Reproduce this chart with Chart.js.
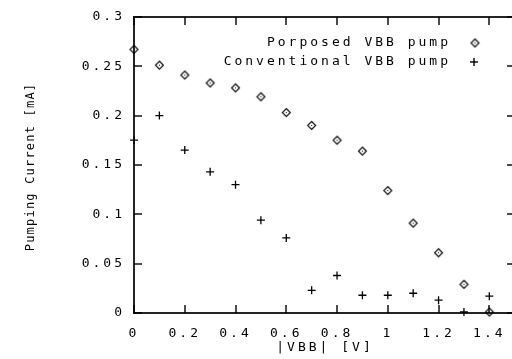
<!DOCTYPE html>
<html>
<head>
<meta charset="utf-8">
<script src="https://cdn.jsdelivr.net/npm/chart.js@4/dist/chart.umd.min.js"></script>
<style>
  html, body { margin: 0; padding: 0; background: #fff; overflow: hidden; }
  canvas { display: block; }
</style>
</head>
<body>
<canvas id="pumpChart" width="520" height="359"></canvas>
<script>
// |VBB| in volts
const vbb = [0, 0.1, 0.2, 0.3, 0.4, 0.5, 0.6, 0.7, 0.8, 0.9, 1.0, 1.1, 1.2, 1.3, 1.4];
// pumping current in mA
const proposedCurrent = [0.267, 0.251, 0.241, 0.233, 0.228, 0.219, 0.203, 0.190, 0.175, 0.164, 0.124, 0.091, 0.061, 0.029, 0.001];
const conventionalCurrent = [0.175, 0.200, 0.165, 0.143, 0.130, 0.094, 0.076, 0.023, 0.038, 0.018, 0.018, 0.020, 0.013, 0.001, 0.017];

const xTicks = [0, 0.2, 0.4, 0.6, 0.8, 1, 1.2, 1.4];
const yTicks = [0, 0.05, 0.1, 0.15, 0.2, 0.25, 0.3];
const seriesNames = ["Porposed VBB pump", "Conventional VBB pump"];
const xTitle = "|VBB| [V]";
const yTitle = "Pumping Current [mA]";

const FONT = "'DejaVu Sans Mono', monospace";

// diamond with a dot in the middle
const diamond = document.createElement("canvas");
diamond.width = 11;
diamond.height = 11;
(function () {
  const c = diamond.getContext("2d");
  c.lineWidth = 1.1;
  c.strokeStyle = "#000";
  c.fillStyle = "#fff";
  c.beginPath();
  c.moveTo(5.5, 1.5);
  c.lineTo(9.5, 5.5);
  c.lineTo(5.5, 9.5);
  c.lineTo(1.5, 5.5);
  c.closePath();
  c.fill();
  c.stroke();
  c.fillStyle = "#000";
  c.fillRect(5, 5, 1, 1);
})();

function spacing(chart) {
  chart.ctx.letterSpacing = "3px";
}

const frame = {
  id: "frame",
  beforeUpdate: spacing,
  beforeDraw: spacing,
  afterDraw(chart) {
    const ctx = chart.ctx;
    const xs = chart.scales.x;
    const ys = chart.scales.y;
    const left = Math.round(xs.getPixelForValue(xs.min));
    const right = Math.round(xs.getPixelForValue(xs.max));
    const top = Math.round(ys.getPixelForValue(ys.max));
    const bottom = Math.round(ys.getPixelForValue(ys.min));

    ctx.save();
    ctx.globalAlpha = 1;
    ctx.globalCompositeOperation = "source-over";
    ctx.setLineDash([]);
    ctx.fillStyle = "#000";
    ctx.strokeStyle = "#000";
    ctx.font = "13px " + FONT;
    ctx.letterSpacing = "3px";
    ctx.textBaseline = "middle";

    // legend: text right aligned, marker on the right
    ctx.textAlign = "right";
    ctx.fillText(seriesNames[0], 451, 43);
    ctx.fillText(seriesNames[1], 451, 62);
    ctx.drawImage(diamond, 475 - 5.5, 43 - 5.5);
    ctx.fillRect(470, 61.3, 8, 1.4);
    ctx.fillRect(473.3, 58, 1.4, 8);

    // x title
    ctx.textAlign = "center";
    ctx.fillText(xTitle, 325, 348);

    if (![left, right, top, bottom].every(Number.isFinite)) {
      ctx.font = "10px sans-serif";
      ctx.letterSpacing = "0px";
      ctx.textAlign = "left";
      ctx.fillText(JSON.stringify([left, right, top, bottom, chart.chartArea]), 140, 200);
    }

    // frame, filled as thin bars
    const w = 1.7;
    ctx.fillRect(left - w / 2, top - w / 2, right - left + w, w);
    ctx.fillRect(left - w / 2, bottom - w / 2, right - left + w, w);
    ctx.fillRect(left - w / 2, top - w / 2, w, bottom - top + w);
    ctx.fillRect(right - w / 2, top - w / 2, w, bottom - top + w);

    // inward ticks on all four sides
    const t = 1.4;
    for (const v of xTicks) {
      const px = Math.round(xs.getPixelForValue(v));
      ctx.fillRect(px - t / 2, bottom - 8, t, 8);
      ctx.fillRect(px - t / 2, top, t, 8);
    }
    for (const v of yTicks) {
      const py = Math.round(ys.getPixelForValue(v));
      ctx.fillRect(left, py - t / 2, 8, t);
      ctx.fillRect(right - 8, py - t / 2, 8, t);
    }

    // y title
    ctx.font = "12px " + FONT;
    ctx.letterSpacing = "1.2px";
    ctx.textAlign = "center";
    ctx.translate(31, 167);
    ctx.rotate(-Math.PI / 2);
    ctx.fillText(yTitle, 0, 0);
    ctx.restore();
  }
};

new Chart(document.getElementById("pumpChart"), {
  type: "scatter",
  data: {
    datasets: [
      {
        label: seriesNames[0],
        data: vbb.map((v, i) => ({ x: v, y: proposedCurrent[i] })),
        pointStyle: diamond,
        clip: false,
      },
      {
        label: seriesNames[1],
        data: vbb.map((v, i) => ({ x: v, y: conventionalCurrent[i] })),
        pointStyle: "cross",
        pointRadius: 4,
        pointBorderWidth: 1.3,
        borderColor: "#000",
        backgroundColor: "#000",
        clip: false,
      },
    ],
  },
  options: {
    responsive: false,
    animation: false,
    events: [],
    layout: { padding: { top: 14, right: 5, left: 0, bottom: 0 } },
    plugins: {
      legend: { display: false },
      tooltip: { enabled: false },
    },
    scales: {
      x: {
        type: "linear",
        min: 0,
        max: 1.5,
        grid: { display: false, drawTicks: false },
        border: { display: false },
        afterBuildTicks: scale => { scale.ticks = xTicks.map(v => ({ value: v })); },
        afterFit: scale => { scale.height = 46; },
        ticks: {
          padding: 13,
          color: "#000",
          maxRotation: 0,
          font: { family: FONT, size: 13 },
          callback: v => String(v),
        },
      },
      y: {
        min: 0,
        max: 0.3,
        grid: { display: false, drawTicks: false },
        border: { display: false },
        afterBuildTicks: scale => { scale.ticks = yTicks.map(v => ({ value: v })); },
        afterFit: scale => { scale.width = 134; },
        ticks: {
          padding: 9,
          color: "#000",
          font: { family: FONT, size: 13 },
          callback: v => String(v),
        },
      },
    },
  },
  plugins: [frame],
});
</script>
</body>
</html>
